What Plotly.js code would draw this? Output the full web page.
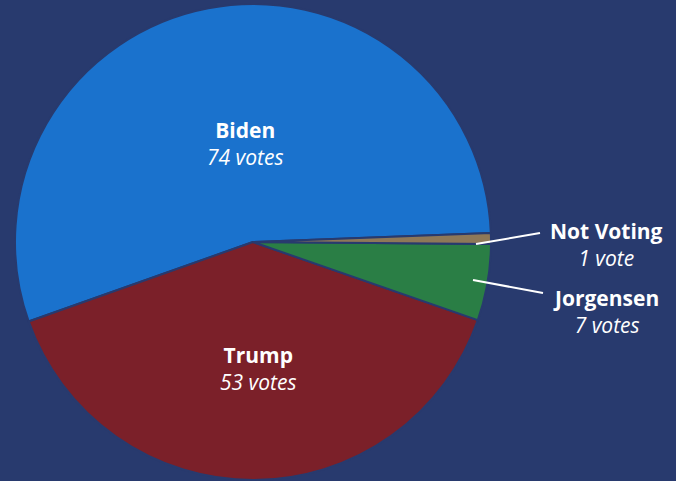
<!DOCTYPE html>
<html>
<head>
<meta charset="utf-8">
<script src="https://cdn.plot.ly/plotly-3.0.1.min.js"></script>
<style>html,body{margin:0;padding:0;background:#283a6e;overflow:hidden;}</style>
</head>
<body>
<div id="chart" style="width:676px;height:481px;"></div>
<script>
const candidates = ["Biden", "Trump", "Jorgensen", "Not Voting"];
const votes = [74, 53, 7, 1];
const voteWord = ["votes", "votes", "votes", "vote"];
const sliceColors = ["#1a72cd", "#7b2029", "#2a7e45", "#8e7858"];

const W = 676, H = 481;
const bg = "#283a6e";

const trace = {
  type: "pie",
  labels: candidates,
  values: votes,
  sort: false,
  direction: "counterclockwise",
  rotation: 250.5,
  textinfo: "none",
  hoverinfo: "label+value",
  marker: { colors: sliceColors, line: { color: bg, width: 2 } },
  domain: { x: [15 / W, 491 / W], y: [1 / H, 477 / H] },
  showlegend: false
};

// label anchor positions (pixels), leader lines for small slices
const labelPos = [[245, 143], [258, 368], [606, 311], [606, 244]];
const leaders = [null, null, [[473, 280], [543, 293]], [[476, 244], [540, 233]]];

const annotations = candidates.map((c, i) => ({
  xref: "paper", yref: "paper",
  x: labelPos[i][0] / W, y: 1 - labelPos[i][1] / H,
  xanchor: "center", yanchor: "middle",
  showarrow: false,
  align: "center",
  text: "<b>" + c + "</b><br><i>" + votes[i] + " " + voteWord[i] + "</i>",
  font: { family: "'Open Sans', Lato, sans-serif", size: 21, color: "#ffffff" }
}));

const shapes = [];
leaders.forEach(l => {
  if (!l) return;
  shapes.push({
    type: "line", xref: "paper", yref: "paper",
    x0: l[0][0] / W, y0: 1 - l[0][1] / H, x1: l[1][0] / W, y1: 1 - l[1][1] / H,
    line: { color: "#ffffff", width: 2 }
  });
});

const layout = {
  width: W, height: H,
  margin: { l: 0, r: 0, t: 0, b: 0 },
  paper_bgcolor: bg,
  plot_bgcolor: bg,
  annotations: annotations,
  shapes: shapes
};

Plotly.newPlot("chart", [trace], layout, { displayModeBar: false, staticPlot: true });
</script>
</body>
</html>
